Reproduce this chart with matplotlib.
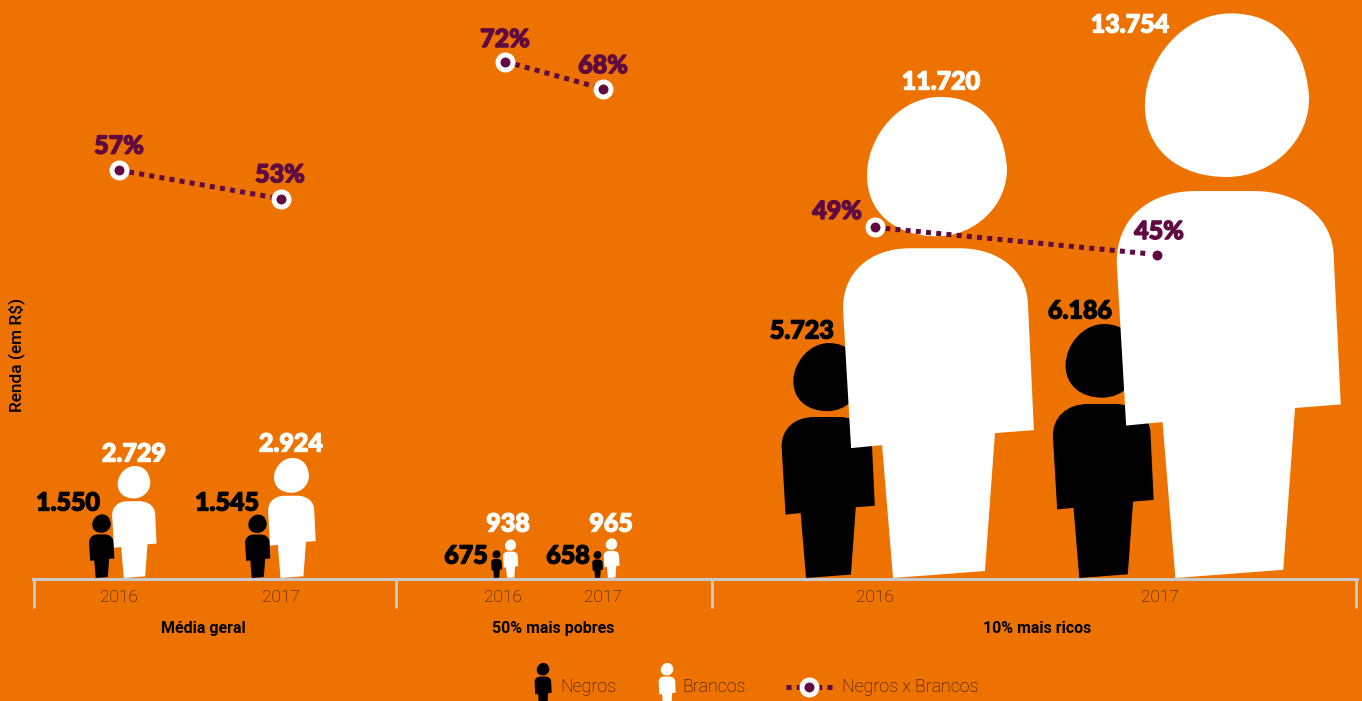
import matplotlib
matplotlib.use("Agg")
import matplotlib.pyplot as plt
import matplotlib.patheffects as pe
import numpy as np
from matplotlib.path import Path
from matplotlib.patches import PathPatch

# data
groups = ["Média geral", "50% mais pobres", "10% mais ricos"]
years = ["2016", "2017", "2016", "2017", "2016", "2017"]
negros = [1550, 1545, 675, 658, 5723, 6186]
brancos = [2729, 2924, 938, 965, 11720, 13754]
razao = [56.8, 52.8, 72.0, 68.2, 48.8, 45.0]

# layout, in image pixels
year_x = [119, 281, 503, 603, 875, 1160]
negros_x = [101.5, 257.5, 496.5, 597.5, 827.5, 1102.5]
brancos_x = [134, 291.5, 510.5, 611.5, 937, 1227]
razao_x = [119, 281, 505, 603, 875, 1157]
group_x = [203, 553, 1037]
bounds_x = [34, 396, 712, 1356]
negros_lab = [(68, 503), (227, 503), (466, 556), (568, 556), (802, 331), (1080, 311)]
brancos_lab = [(134, 454), (291, 444), (508, 524), (611, 524), (941, 82), (1130, 25)]
razao_off = [(0, 24), (-1, 24), (0, 22), (0, 23), (-38, 16), (2, 23)]

W, H = 1362, 701
BASE_Y = 578
PX_PER_REAL = 564 / 13754

ORANGE = "#EE7200"
PURPLE = "#5F0A41"
GRAY = "#C9C9C9"
DARK = "#200C00"
HEAVY = ["Lato", "Inter"]
PT = 72 / 100


def py(y):
    # pixel row of the image -> value on the income axis
    return (BASE_Y - y) / PX_PER_REAL


# person outline, traced on the 11.720 figure (centre 937, height 481)
head = [(940, 96.5), (978, 96.5), (1003, 120), (1007, 167), (1008, 205), (975, 236), (937, 236),
        (895, 236), (866, 212), (867, 173), (868, 135), (900, 96.5), (940, 96.5)]
head_codes = [Path.MOVETO] + [Path.CURVE4] * 12
body = [(910, 248), (960, 248), (1000, 248), (1027, 272), (1028, 303), (1034, 430), (995, 433),
        (985, 571), (893, 578), (882, 445), (851, 448), (843, 310), (842, 272), (870, 248), (910, 248)]
body_codes = [Path.MOVETO, Path.LINETO, Path.CURVE4, Path.CURVE4, Path.CURVE4] + [Path.LINETO] * 6 \
    + [Path.LINETO, Path.CURVE4, Path.CURVE4, Path.CURVE4]
shape = (np.array(head + body, dtype=float) - [937, BASE_Y]) / [481, -481]
shape_codes = head_codes + body_codes


def person(ax, cx, value, color, z, base=0):
    h_px = value * PX_PER_REAL
    verts = np.column_stack([cx + shape[:, 0] * h_px, base + shape[:, 1] * value])
    ax.add_patch(PathPatch(Path(verts, shape_codes), fc=color, ec="none", zorder=z))


def dotted(ax, xs, ys):
    ax.plot(xs, ys, color=PURPLE, lw=5 * PT, linestyle=(0, (1, 1.05)), dash_capstyle="butt", zorder=3)


def heavy(color):
    # the source font is fatter than anything installed
    return dict(color=color, family=HEAVY, weight=900, fontsize=18, ha="center", va="center", zorder=5,
                path_effects=[pe.withStroke(linewidth=1.0, foreground=color)])


def money(v):
    return f"{v:,}".replace(",", ".")


fig = plt.figure(figsize=(W / 100, H / 100), dpi=100, facecolor=ORANGE)
ax = fig.add_axes([0, 0, 1, 1])
ax.set_facecolor(ORANGE)
ax.set_xlim(0, W)
ax.set_ylim(py(H), py(0))

for i in range(6):
    person(ax, negros_x[i], negros[i], "black", 2)
for i in range(6):
    person(ax, brancos_x[i], brancos[i], "white", 3)

for i in range(6):
    ax.text(negros_lab[i][0], py(negros_lab[i][1]), money(negros[i]), **heavy("black"))
    ax.text(brancos_lab[i][0], py(brancos_lab[i][1]), money(brancos[i]), **heavy("white"))

# axis line with the year labels
for s in ["top", "left", "right"]:
    ax.spines[s].set_visible(False)
ax.spines["bottom"].set_position(("data", py(579)))
ax.spines["bottom"].set_bounds(33, 1357)
ax.spines["bottom"].set_color(GRAY)
ax.spines["bottom"].set_linewidth(3 * PT)
ax.spines["bottom"].set_zorder(6)
ax.set_xticks(year_x)
ax.set_xticklabels(years, family="Roboto", weight="light", fontsize=12.4, color=DARK)
ax.set_xticks(bounds_x, minor=True)
ax.tick_params(axis="x", which="major", length=0, pad=8)
ax.tick_params(axis="x", which="minor", length=29 * PT, width=3 * PT, color=GRAY)
ax.set_yticks([])

for x, g in zip(group_x, groups):
    ax.text(x, py(628.5), g, family="Roboto", weight="bold", fontsize=11.5, color="black", ha="center", va="center")
ax.text(17, py(355), "Renda (em R$)", family="Roboto", weight="medium", fontsize=12.4, color="black", rotation=90,
        ha="center", va="center")

# legend
person(ax, 543, 1049, "black", 2, base=py(706))
person(ax, 667, 1049, "white", 2, base=py(706))
for x, t in zip([560, 682, 842], ["Negros", "Brancos", "Negros x Brancos"]):
    ax.text(x, py(687), t, family="Roboto", weight="light", fontsize=12.8, color=DARK, va="center")
dotted(ax, [786, 833], [py(687), py(687)])
ax.plot([809], [py(687)], "o", ms=15 * PT, mfc=PURPLE, mec="white", mew=5 * PT, zorder=4)

# ratio line on its own scale, over the figures
ax2 = ax.twinx()
ax2.set_ylim(56.8 + (170.2 - H) / 7.15, 56.8 + 170.2 / 7.15)
ax2.axis("off")
for i in range(0, 6, 2):
    dotted(ax2, razao_x[i:i + 2], razao[i:i + 2])
ax2.plot(razao_x, razao, "o", ms=15 * PT, mfc=PURPLE, mec="white", mew=5 * PT, zorder=4, ls="none")
for i in range(6):
    off = razao_off[i]
    ax2.annotate(f"{round(razao[i])}%", (razao_x[i], razao[i]), xytext=(off[0] * PT, off[1] * PT),
                 textcoords="offset points", **heavy(PURPLE))

fig.savefig("out.png", dpi=100, facecolor=ORANGE)
